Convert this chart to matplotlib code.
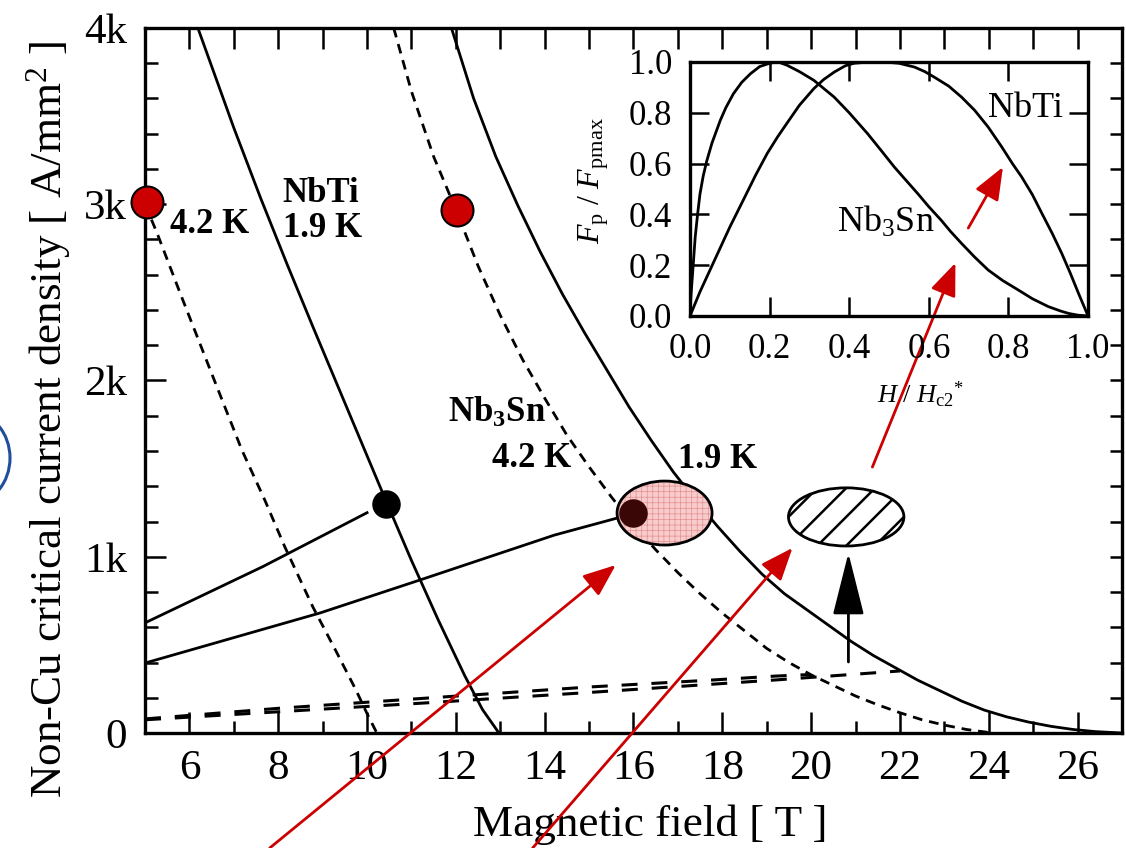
import numpy as np
import matplotlib
matplotlib.use("Agg")
import matplotlib.pyplot as plt
from matplotlib.patches import Ellipse

plt.rcParams['font.family'] = 'Liberation Serif'
plt.rcParams['mathtext.fontset'] = 'custom'
plt.rcParams['mathtext.rm'] = 'Liberation Serif'
plt.rcParams['mathtext.it'] = 'Liberation Serif:italic'
plt.rcParams['mathtext.bf'] = 'Liberation Serif:bold'
plt.rcParams['lines.scale_dashes'] = False
plt.rcParams['hatch.linewidth'] = 0.5

# ---- data ----
# NbTi 4.2 K (dashed)
nbti42_x = [5.0, 5.27, 5.79, 6.5, 7.18, 7.7, 8.15, 8.78, 9.3, 9.75, 10.0, 10.22]
nbti42_y = [3000, 2837, 2496, 2040, 1606, 1320, 1055, 715, 465, 244, 110, 0]
# NbTi 1.9 K (solid)
nbti19_x = [6.19, 7.0, 7.6, 8.2, 8.8, 9.4, 10.0, 10.44, 11.0, 11.6, 12.2, 12.6, 12.97]
nbti19_y = [4000, 3433, 3037, 2659, 2293, 1933, 1573, 1309, 979, 643, 325, 133, 0]
# Nb3Sn 4.2 K (dashed)
nb3sn42_x = [10.6, 11.0, 11.5, 12.0, 12.5, 13.0, 13.5, 14.0, 14.5, 15.0, 15.5, 16.0,
             16.5, 17.0, 17.5, 18.0, 18.5, 19.0, 19.5, 20.0, 20.5, 21.0, 21.5, 22.0,
             22.5, 23.0, 23.5, 24.0]
nb3sn42_y = [4000, 3640, 3270, 2970, 2650, 2370, 2120, 1900, 1690, 1510, 1340, 1180,
             1040, 910, 790, 680, 580, 480, 400, 330, 270, 210, 160, 115,
             75, 45, 20, 3]
# Nb3Sn 1.9 K (solid)
nb3sn19_x = [11.9, 12.4, 12.9, 13.4, 13.9, 14.4, 14.9, 15.4, 15.9, 16.4, 16.9, 17.4,
             17.9, 18.4, 18.9, 19.4, 19.9, 20.4, 20.9, 21.4, 21.9, 22.4, 22.9, 23.4,
             23.9, 24.4, 24.9, 25.4, 25.9, 26.4, 27.0]
nb3sn19_y = [4000, 3600, 3270, 2990, 2730, 2490, 2270, 2060, 1850, 1660, 1480, 1320,
             1170, 1030, 900, 790, 700, 610, 520, 440, 370, 300, 240, 180,
             130, 92, 62, 38, 20, 8, 0]
# load lines
load1_x = [5.0, 7.66, 10.0]
load1_y = [625, 945, 1250]
load2_x = [5.0, 8.94, 11.19, 14.22, 15.64]
load2_y = [397, 681, 868, 1123, 1220]
# long dashed lines near the bottom
ldA_x = [5.0, 8.0, 11.4, 15.0, 17.8, 19.2, 20.0]
ldA_y = [80, 140, 199, 261, 301, 323, 332]
ldB_x = [5.0, 11.4, 15.0, 19.2, 22.0]
ldB_y = [75, 172, 230, 301, 352]

red_pts_x = [5.04, 12.02]
red_pts_y = [3013, 2967]
black_pt = (10.42, 1300)
dark_pt = (16.0, 1248)

pink_ell = (16.7, 1248, 2.14, 363)     # x, y, width, height
hatch_ell = (20.79, 1226, 2.6, 330)

# arrows: (tail, tip)
red_arrows = [((7.81, -652), (15.6, 953)),
              ((13.73, -652), (19.58, 1050)),
              ((21.38, 1509), (23.25, 2667)),
              ((23.54, 2865), (24.32, 3211))]
black_arrow = ((20.84, 403), (20.84, 1021))

xticks = [6, 8, 10, 12, 14, 16, 18, 20, 22, 24, 26]
yticks = [0, 1000, 2000, 3000, 4000]
ylabels = ['0', '1k', '2k', '3k', '4k']

# inset: pinning force curves
in_nbti_b = [0, 0.025, 0.05, 0.075, 0.1, 0.135, 0.165, 0.194, 0.22, 0.244, 0.275, 0.311,
             0.335, 0.362, 0.39, 0.412, 0.45, 0.488, 0.525, 0.564, 0.59, 0.614, 0.65,
             0.682, 0.715, 0.749, 0.783, 0.81, 0.833, 0.86, 0.884, 0.91, 0.934, 0.955,
             0.976, 1.0]
in_nbti_f = [0, 0.095, 0.18, 0.265, 0.35, 0.46, 0.555, 0.64, 0.705, 0.76, 0.83, 0.895,
             0.93, 0.96, 0.985, 0.995, 1.0, 1.0, 0.995, 0.98, 0.962, 0.94, 0.905,
             0.862, 0.81, 0.744, 0.666, 0.6, 0.548, 0.478, 0.404, 0.325, 0.246, 0.17,
             0.089, 0]
in_nb3sn_b = [0, 0.002, 0.004, 0.008, 0.013, 0.019, 0.025, 0.033, 0.042, 0.055, 0.076,
              0.09, 0.109, 0.13, 0.152, 0.175, 0.202, 0.222, 0.244, 0.275, 0.311, 0.335,
              0.362, 0.4, 0.446, 0.48, 0.513, 0.545, 0.572, 0.6, 0.631, 0.655, 0.682,
              0.715, 0.749, 0.785, 0.825, 0.86, 0.9, 0.93, 0.951, 0.975, 1.0]
in_nb3sn_f = [0, 0.07, 0.115, 0.2, 0.31, 0.4, 0.48, 0.55, 0.61, 0.68, 0.77,
              0.82, 0.875, 0.92, 0.954, 0.982, 0.996, 1.0, 0.987, 0.962, 0.928, 0.897,
              0.862, 0.8, 0.718, 0.652, 0.587, 0.53, 0.482, 0.43, 0.377, 0.332, 0.286,
              0.232, 0.181, 0.14, 0.102, 0.068, 0.037, 0.02, 0.01, 0.003, 0]
in_ticks = [0, 0.2, 0.4, 0.6, 0.8, 1.0]
in_labels = ['0.0', '0.2', '0.4', '0.6', '0.8', '1.0']

# ---- figure ----
W, H = 11.26, 8.48
fig = plt.figure(figsize=(W, H), dpi=100)
ax = fig.add_axes([0.1288, 0.1356, 0.8676, 0.8314])
ax.set_xlim(5, 27)
ax.set_ylim(0, 4000)

lw = 2.0
short = (0, (7, 5))
longd = (0, (11.5, 10))
ax.plot(nbti42_x, nbti42_y, color='black', lw=lw, ls=short)
ax.plot(nbti19_x, nbti19_y, color='black', lw=lw)
ax.plot(nb3sn42_x, nb3sn42_y, color='black', lw=lw, ls=short)
ax.plot(nb3sn19_x, nb3sn19_y, color='black', lw=lw)
ax.plot(load1_x, load1_y, color='black', lw=lw)
ax.plot(load2_x, load2_y, color='black', lw=lw)
ax.plot(ldA_x, ldA_y, color='black', lw=2.2, ls=longd)
ax.plot(ldB_x, ldB_y, color='black', lw=2.2, ls=longd)

# ellipses
pe = Ellipse(pink_ell[:2], pink_ell[2], pink_ell[3], facecolor='#f8cccc',
             edgecolor='#e48f8f', lw=0, hatch='+++', zorder=4)
ax.add_patch(pe)
ax.add_patch(Ellipse(pink_ell[:2], pink_ell[2], pink_ell[3], facecolor='none',
                     edgecolor='black', lw=2, zorder=5))
he = Ellipse(hatch_ell[:2], hatch_ell[2], hatch_ell[3], facecolor='white',
             edgecolor='black', lw=2, zorder=4)
ax.add_patch(he)
# 45 degree hatch lines (in screen space) clipped to the ellipse
ax_w = W * 100 * 0.8676
ax_h = H * 100 * 0.8314
k = (4000 / ax_h) / (22 / ax_w)
for off in [-1.3, -0.65, 0, 0.65, 1.3]:
    cx = hatch_ell[0] + off
    xs = np.array([cx - 1.0, cx + 1.0])
    ln, = ax.plot(xs, hatch_ell[1] + k * (xs - cx), color='black', lw=1.8, zorder=4.5)
    ln.set_clip_path(he)

ax.plot(red_pts_x, red_pts_y, 'o', ms=23, mfc='#cc0000', mec='black', mew=1.5,
        clip_on=False, zorder=6)
ax.plot(*black_pt, 'o', ms=19.5, color='black', zorder=6)
ax.plot(*dark_pt, 'o', ms=19.5, color='#3a0606', zorder=6)

for tail, tip in red_arrows:
    ax.annotate('', xy=tip, xytext=tail, annotation_clip=False, zorder=7,
                arrowprops=dict(arrowstyle='-|>,head_length=1.0,head_width=0.4',
                                color='#cc0000', lw=2, mutation_scale=20,
                                shrinkA=0, shrinkB=0))
ax.annotate('', xy=black_arrow[1], xytext=black_arrow[0], zorder=7,
            arrowprops=dict(arrowstyle='-|>,head_length=1.95,head_width=0.49',
                            color='black', lw=2, mutation_scale=20,
                            shrinkA=0, shrinkB=0))

# labels inside
bold = dict(fontsize=25, fontweight='bold', va='baseline', ha='left')
ax.text(8.10, 3013, 'NbTi', **bold)
ax.text(8.10, 2814, '1.9 K', **bold)
ax.text(5.56, 2837, '4.2 K', **bold)
ax.text(11.82, 1765, r'$\mathbf{Nb_3Sn}$', **bold)
ax.text(12.81, 1509, '4.2 K', **bold)
ax.text(17.01, 1503, '1.9 K', **bold)

# axes styling
ax.set_xticks(xticks)
ax.set_xticks(range(7, 27, 2), minor=True)
ax.set_yticks(yticks)
ax.set_yticklabels(ylabels)
ax.set_yticks(range(200, 4000, 200), minor=True)
ax.tick_params(which='both', direction='in', width=1.8, labelsize=31)
ax.tick_params(which='major', length=15)
ax.tick_params(which='minor', length=9)
ax.tick_params(axis='x', pad=12)
ax.tick_params(axis='y', pad=13)
for s in ax.spines.values():
    s.set_linewidth(2.4)

top = ax.secondary_xaxis('top')
top.set_xticks(range(6, 27))
top.tick_params(direction='in', length=15, width=1.8, labeltop=False)
right = ax.secondary_yaxis('right')
right.set_yticks(range(200, 4000, 200))
right.tick_params(direction='in', length=9, width=1.8, labelright=False)

ax.set_xlabel('Magnetic field [ T ]', fontsize=32.5, va='center')
ax.xaxis.set_label_coords(0.517, -0.1305)
ax.set_ylabel('Non-Cu critical current density [ A/mm$^2$ ]', fontsize=32.5,
              va='center')
ax.yaxis.set_label_coords(-0.099, 0.445)

# blue arc at the left edge
fig.add_artist(Ellipse((-28 / 1126, 1 - 458 / 848), 76 / 1126, 90 / 848,
                       transform=fig.transFigure, facecolor='none',
                       edgecolor='#1f4e9c', lw=2.2))

# ---- inset ----
ai = fig.add_axes([0.6128, 0.6274, 0.3535, 0.2995])
ai.patch.set_alpha(0)
ai.plot(in_nbti_b, in_nbti_f, color='black', lw=2)
ai.plot(in_nb3sn_b, in_nb3sn_f, color='black', lw=2)
ai.set_xlim(0, 1)
ai.set_ylim(0, 1)
ai.set_xticks(in_ticks)
ai.set_xticklabels(in_labels)
ai.set_yticks(in_ticks)
ai.set_yticklabels(in_labels)
ai.tick_params(direction='in', length=14, width=1.8, top=True, right=True, labelsize=25)
ai.tick_params(axis='x', pad=12)
ai.tick_params(axis='y', pad=13)
for s in ai.spines.values():
    s.set_linewidth(2.4)
ai.text(0.749, 0.783, 'NbTi', fontsize=26, va='baseline', transform=ai.transAxes)
ai.text(0.369, 0.331, 'Nb$_3$Sn', fontsize=26, va='baseline', transform=ai.transAxes)
ai.text(-0.241, 0.535, r'$F_{\mathrm{p}}\ /\ F_{\mathrm{pmax}}$', fontsize=23,
        rotation=90, ha='center', va='center', transform=ai.transAxes)
ai.text(0.578, -0.311, r'$H\ /\ H_{\mathrm{c2}}{}^{*}$', fontsize=19,
        ha='center', va='center', transform=ai.transAxes)

fig.savefig('out.png', dpi=100)
